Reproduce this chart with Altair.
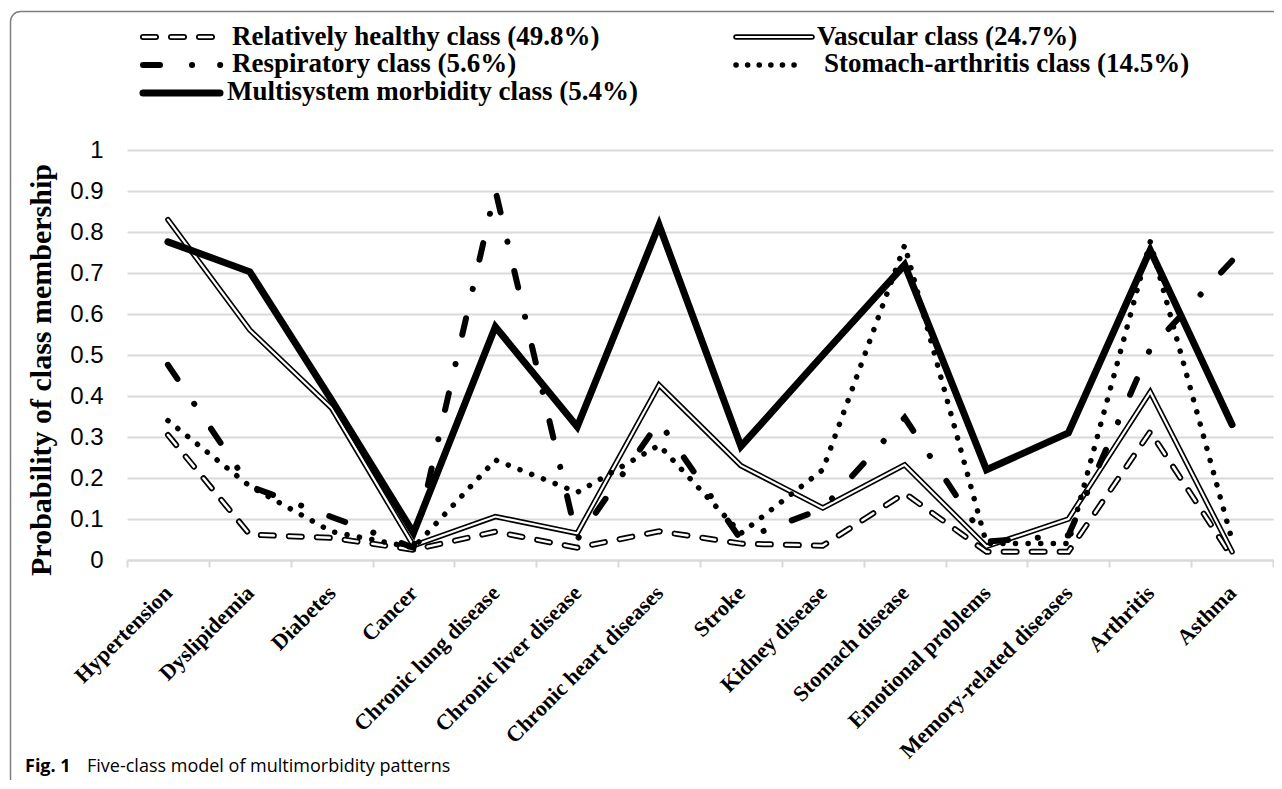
import altair as alt
import pandas as pd

categories = ["Hypertension", "Dyslipidemia", "Diabetes", "Cancer", "Chronic lung disease",
              "Chronic liver disease", "Chronic heart diseases", "Stroke", "Kidney disease",
              "Stomach disease", "Emotional problems", "Memory-related diseases", "Arthritis", "Asthma"]

series_names = ["Relatively healthy class (49.8%)", "Vascular class (24.7%)",
                "Respiratory class (5.6%)", "Stomach-arthritis class (14.5%)",
                "Multisystem morbidity class (5.4%)"]

healthy = [0.305, 0.062, 0.054, 0.025, 0.069, 0.03, 0.07, 0.04, 0.035, 0.163, 0.02, 0.02, 0.313, 0.007]
vascular = [0.83, 0.561, 0.37, 0.035, 0.106, 0.065, 0.427, 0.23, 0.127, 0.232, 0.033, 0.10, 0.41, 0.02]
respiratory = [0.476, 0.18, 0.105, 0.03, 0.902, 0.05, 0.337, 0.05, 0.125, 0.347, 0.045, 0.06, 0.515, 0.73]
stomach_arthritis = [0.34, 0.18, 0.069, 0.03, 0.244, 0.165, 0.28, 0.065, 0.22, 0.768, 0.04, 0.04, 0.776, 0.048]
multisystem = [0.776, 0.703, 0.39, 0.066, 0.569, 0.325, 0.817, 0.277, 0.50, 0.72, 0.22, 0.31, 0.756, 0.33]

y_ticks = [0, 0.1, 0.2, 0.3, 0.4, 0.5, 0.6, 0.7, 0.8, 0.9, 1]
y_title = "Probability of class membership"
caption_bold = "Fig. 1"
caption_text = "Five-class model of multimorbidity patterns"

rows = []
for name, vals in zip(series_names, [healthy, vascular, respiratory, stomach_arthritis, multisystem]):
    for c, v in zip(categories, vals):
        rows.append({"category": c, "series": name, "value": v})
df = pd.DataFrame(rows)

SERIF = "Liberation Serif"
SANS = "Liberation Sans"
GRID = "#d9d9d9"

x_enc = alt.X(
    "category:N", sort=categories, bandPosition=0.5,
    scale=alt.Scale(type="band", paddingInner=0, paddingOuter=0),
    axis=alt.Axis(title=None, labelAngle=-45, labelAlign="right", labelBaseline="middle",
                  labelFont=SERIF, labelFontWeight="bold", labelFontSize=22, labelColor="black",
                  labelPadding=22, labelLimit=400, labelOverlap=False,
                  domainColor=GRID, domainWidth=2, tickColor=GRID, tickWidth=2, tickSize=7,
                  tickBand="extent", grid=False),
)
y_enc = alt.Y(
    "value:Q",
    scale=alt.Scale(domain=[0, 1], nice=False),
    axis=alt.Axis(title=None, values=y_ticks, format=".1~f", labelFont=SANS, labelFontSize=24,
                  labelColor="black", labelPadding=24, ticks=False, tickSize=0, domain=False,
                  grid=True, gridColor=GRID, gridWidth=2),
)


def series_line(name, **mark):
    return alt.Chart(df).transform_filter(alt.datum.series == name).mark_line(**mark).encode(
        x=x_enc, y=y_enc)


HEALTHY_DASH = [13, 15]
RESP_DASH = [17, 30, 0.1, 30]
DOT_DASH = [0.1, 12.5]

lines = [
    series_line(series_names[0], color="black", strokeWidth=6, strokeDash=HEALTHY_DASH, strokeCap="round"),
    series_line(series_names[0], color="white", strokeWidth=2.5, strokeDash=HEALTHY_DASH, strokeCap="round"),
    series_line(series_names[1], color="black", strokeWidth=5.5, strokeCap="round"),
    series_line(series_names[1], color="white", strokeWidth=2.2, strokeCap="round"),
    series_line(series_names[2], color="black", strokeWidth=6, strokeDash=RESP_DASH, strokeCap="round"),
    series_line(series_names[3], color="black", strokeWidth=5.5, strokeDash=DOT_DASH, strokeCap="round"),
    series_line(series_names[4], color="black", strokeWidth=7, strokeCap="round"),
]

one = alt.Data(values=[{}])


def rule(x1, x2, y, **mark):
    return alt.Chart(one).mark_rule(**mark).encode(
        x=alt.value(x1), x2=alt.value(x2), y=alt.value(y))


def text(t, x, y, **mark):
    return alt.Chart(one).mark_text(text=t, **mark).encode(x=alt.value(x), y=alt.value(y))


legend_font = dict(font=SERIF, fontWeight="bold", fontSize=27, color="black", align="left",
                   baseline="alphabetic")

legend = [
    # healthy
    rule(16, 87, -113, color="black", strokeWidth=6, strokeDash=HEALTHY_DASH, strokeCap="round"),
    rule(16, 87, -113, color="white", strokeWidth=2.5, strokeDash=HEALTHY_DASH, strokeCap="round"),
    text(series_names[0], 105, -105, **legend_font),
    # respiratory
    rule(16, 94, -85, color="black", strokeWidth=6, strokeDash=[17, 32, 0.1, 28, 0.1, 100], strokeCap="round"),
    text(series_names[2], 105, -78, **legend_font),
    # multisystem
    rule(16, 93, -57, color="black", strokeWidth=7, strokeCap="round"),
    text(series_names[4], 100, -50, **legend_font),
    # vascular
    rule(609, 685, -113, color="black", strokeWidth=5.5, strokeCap="round"),
    rule(609, 685, -113, color="white", strokeWidth=2.2, strokeCap="round"),
    text(series_names[1], 690, -105, **legend_font),
    # stomach-arthritis
    rule(609, 667.5, -85, color="black", strokeWidth=5.5, strokeDash=[0.1, 11.5], strokeCap="round"),
    text(series_names[3], 697, -78, **legend_font),
]

annotations = [
    alt.Chart(one).mark_rect(filled=False, stroke="#7f7f7f", strokeWidth=1.5, cornerRadius=10).encode(
        x=alt.value(-116.5), x2=alt.value(1170), y=alt.value(-138.5), y2=alt.value(645)),
    text(y_title, -85, 220, font=SERIF, fontWeight="bold", fontSize=30, color="black",
         angle=270, align="center", baseline="middle"),
    text(caption_bold, -102, 622, font="Open Sans", fontWeight="bold", fontSize=18, color="black",
         align="left", baseline="alphabetic"),
    text(caption_text, -40, 622, font="Open Sans", fontSize=18, color="black",
         align="left", baseline="alphabetic"),
]

chart = alt.layer(*lines, *legend, *annotations).properties(
    width=1146, height=410,
    autosize=alt.AutoSizeParams(type="none"),
    padding={"left": 119, "top": 142, "right": 1, "bottom": 220},
    background="white",
).configure_view(strokeWidth=0)

chart.save("out.html", embed_options={"renderer": "svg", "actions": False})
